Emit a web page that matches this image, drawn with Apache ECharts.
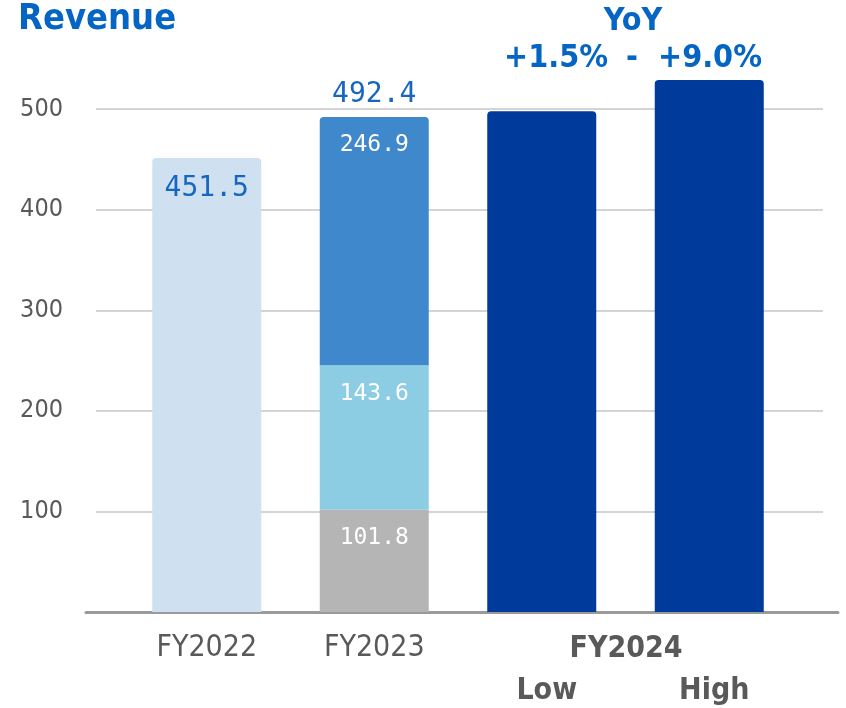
<!DOCTYPE html>
<html>
<head>
<meta charset="utf-8">
<script src="https://cdn.jsdelivr.net/npm/echarts@6/dist/echarts.min.js"></script>
<style>
  html, body { margin: 0; padding: 0; background: #fff; }
  #chart { width: 846px; height: 708px; }
</style>
</head>
<body>
<div id="chart"></div>
<script>
// data
const categories = ['FY2022', 'FY2023', 'Low', 'High']
const fy2022 = [451.5, '-', '-', '-']
const fy2023Other = ['-', 101.8, '-', '-']
const fy2023Mid = ['-', 143.6, '-', '-']
const fy2023Top = ['-', 246.9, '-', '-']
const fy2024 = ['-', '-', 498, 529]
const fy2023Total = ['-', 492.4, '-', '-']
const yoyRange = ['+1.5%', '+9.0%']
const yMax = 540
const yStep = 100

const COND = '"DejaVu Sans Condensed", "DejaVu Sans", sans-serif'
const MONO = '"DejaVu Sans Mono", monospace'
const BLUE = '#1766bf'
const GRAY = '#595959'

const chart = echarts.init(document.getElementById('chart'))

// label inside bar, near the top
function inLabel(color, size) {
  return {
    show: true,
    position: 'insideTop',
    distance: 17,
    color,
    fontFamily: MONO,
    fontSize: size
  }
}

function barSeries(name, data, color, label, radius) {
  return {
    name,
    type: 'bar',
    stack: 'rev',
    xAxisIndex: 0,
    yAxisIndex: 0,
    barWidth: 109,
    data,
    itemStyle: { color, borderRadius: radius ? [4, 4, 0, 0] : 0 },
    label: label || { show: false },
    emphasis: { disabled: true }
  }
}

const grids = { top: 69, bottom: 96 }

const option = {
  animation: false,
  grid: [
    { left: 123, right: 53, ...grids },  // bars
    { left: 96, right: 23, ...grids },   // split lines + y labels
    { left: 86, right: 8, ...grids }     // base line
  ],
  xAxis: [
    {
      type: 'category',
      gridIndex: 0,
      data: categories,
      axisLine: { show: false },
      axisTick: { show: false },
      axisLabel: {
        interval: 0,
        margin: 21,
        color: GRAY,
        fontFamily: COND,
        fontSize: 30,
        formatter: (v, i) => i < 2 ? v : '{sub|' + v + '}',
        rich: {
          sub: {
            fontFamily: COND,
            fontSize: 30,
            fontWeight: 'bold',
            color: GRAY,
            padding: [43, 0, 0, 10]
          }
        }
      }
    },
    { type: 'value', gridIndex: 1, show: false },
    {
      type: 'value',
      gridIndex: 2,
      axisLine: { show: true, onZero: false, lineStyle: { color: '#9a9a9a', width: 3 } },
      axisTick: { show: false },
      axisLabel: { show: false },
      splitLine: { show: false }
    }
  ],
  yAxis: [
    { type: 'value', gridIndex: 0, min: 0, max: yMax, interval: yStep, show: false },
    {
      type: 'value',
      gridIndex: 1,
      min: 0,
      max: yMax,
      interval: yStep,
      axisLine: { show: false },
      axisTick: { show: false },
      axisLabel: {
        margin: 33,
        color: GRAY,
        fontFamily: COND,
        fontSize: 25,
        showMinLabel: false,
        showMaxLabel: false
      },
      splitLine: {
        showMinLine: false,
        showMaxLine: false,
        lineStyle: { color: '#d4d4d4', width: 2 }
      }
    },
    { type: 'value', gridIndex: 2, min: 0, max: yMax, show: false }
  ],
  series: [
    barSeries('FY2022', fy2022, '#cfe0f1', inLabel(BLUE, 28), true),
    barSeries('Other', fy2023Other, '#b5b5b5', inLabel('#fff', 23)),
    barSeries('Mid', fy2023Mid, '#8ccde4', inLabel('#fff', 23)),
    barSeries('Top', fy2023Top, '#3f88cb', inLabel('#fff', 23), true),
    barSeries('FY2024', fy2024, '#003a9a', null, true),
    {
      // total above the FY2023 stack
      name: 'Total',
      type: 'scatter',
      xAxisIndex: 0,
      yAxisIndex: 0,
      data: fy2023Total,
      symbolSize: 0.01,
      itemStyle: { color: BLUE, opacity: 1 },
      label: {
        show: true,
        position: 'top',
        distance: 8,
        color: BLUE,
        opacity: 1,
        fontFamily: MONO,
        fontSize: 28
      },
      emphasis: { disabled: true }
    }
  ],
  graphic: [
    {
      type: 'text', x: 18, y: 20,
      style: { text: 'Revenue', align: 'left', verticalAlign: 'middle', fill: '#0565c4',
        font: 'bold 36px ' + COND }
    },
    {
      type: 'text', x: 633, y: 22,
      style: { text: 'YoY', align: 'center', verticalAlign: 'middle', fill: '#0565c4',
        font: 'bold 32px ' + COND }
    },
    {
      type: 'text', x: 608, y: 59,
      style: { text: yoyRange[0], align: 'right', verticalAlign: 'middle', fill: '#0565c4',
        font: 'bold 32px ' + COND }
    },
    {
      type: 'text', x: 632, y: 59,
      style: { text: '-', align: 'center', verticalAlign: 'middle', fill: '#0565c4',
        font: 'bold 32px ' + COND }
    },
    {
      type: 'text', x: 658, y: 59,
      style: { text: yoyRange[1], align: 'left', verticalAlign: 'middle', fill: '#0565c4',
        font: 'bold 32px ' + COND }
    },
    {
      type: 'text', x: 626, y: 649,
      style: { text: 'FY2024', align: 'center', verticalAlign: 'middle', fill: GRAY,
        font: 'bold 30px ' + COND }
    }
  ]
}

chart.setOption(option)
</script>
</body>
</html>
